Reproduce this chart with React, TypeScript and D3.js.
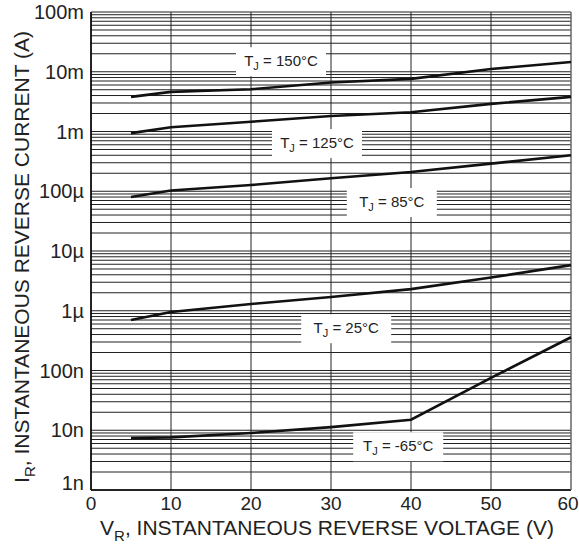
import React from 'react';
import * as d3 from 'd3';

// reverse voltage (V) sample points
const voltages = [5, 10, 20, 30, 40, 50, 60];

// reverse current (A) per junction temperature
const i150 = [3.8e-3, 4.6e-3, 5.1e-3, 6.6e-3, 7.6e-3, 11.1e-3, 14.6e-3];
const i125 = [0.94e-3, 1.18e-3, 1.46e-3, 1.82e-3, 2.1e-3, 2.9e-3, 3.8e-3];
const i85 = [80e-6, 103e-6, 127e-6, 165e-6, 210e-6, 290e-6, 400e-6];
const i25 = [0.7e-6, 0.95e-6, 1.3e-6, 1.7e-6, 2.3e-6, 3.6e-6, 5.8e-6];
const iMinus65 = [7.4e-9, 7.6e-9, 9e-9, 11.3e-9, 15e-9, 75e-9, 360e-9];

const curveLabels = ['150°C', '125°C', '85°C', '25°C', '-65°C'];
// label anchor points (V, A) for the white boxes
const labelV = [23.75, 28.25, 37.6, 31.9, 38.4];
const labelI = [15e-3, 0.64e-3, 66e-6, 0.51e-6, 5.4e-9];

const xTicks = [0, 10, 20, 30, 40, 50, 60];
const yTicks = [1e-9, 1e-8, 1e-7, 1e-6, 1e-5, 1e-4, 1e-3, 1e-2, 1e-1];
const yTickLabels = ['1n', '10n', '100n', '1µ', '10µ', '100µ', '1m', '10m', '100m'];

const W = 579;
const H = 545;
const margin = { top: 12, right: 8, bottom: 55, left: 91 };
const FONT = 'Liberation Sans, Arial, sans-serif';

export default function App() {
  const x = d3.scaleLinear().domain([0, 60]).range([margin.left, W - margin.right]);
  const y = d3.scaleLog().domain([1e-9, 1e-1]).range([H - margin.bottom, margin.top]);

  const series = [i150, i125, i85, i25, iMinus65];
  const line = d3
    .line<[number, number]>()
    .x(d => x(d[0]))
    .y(d => y(d[1]));

  // minor log grid: 2..9 in every decade
  const minor: number[] = [];
  for (let e = -9; e < -1; e++) {
    for (let m = 2; m <= 9; m++) minor.push(m * Math.pow(10, e));
  }

  const x0 = x(0);
  const x1 = x(60);
  const yTop = y(1e-1);
  const yBot = y(1e-9);

  return (
    <svg
      width={W}
      height={H}
      style={{ position: 'absolute', left: 0, top: 0, background: '#fff' }}
      fontFamily={FONT}
    >
      {/* horizontal grid */}
      <g stroke="#222" strokeWidth={1}>
        {minor.map((v, i) => (
          <line key={'m' + i} x1={x0} x2={x1} y1={y(v)} y2={y(v)} />
        ))}
        {yTicks.map((v, i) => (
          <line key={'M' + i} x1={x0} x2={x1} y1={y(v)} y2={y(v)} />
        ))}
      </g>
      {/* vertical grid */}
      <g stroke="#222" strokeWidth={1}>
        {xTicks.map((v, i) => (
          <line key={i} x1={x(v)} x2={x(v)} y1={yTop} y2={yBot} />
        ))}
      </g>
      {/* axes */}
      <line x1={x0} x2={x0} y1={yTop} y2={yBot} stroke="#000" strokeWidth={1.5} />
      <line x1={x0} x2={x1} y1={yBot} y2={yBot} stroke="#000" strokeWidth={1.5} />
      <line x1={x1} x2={x1} y1={yTop} y2={yBot} stroke="#888" strokeWidth={1} />

      {/* curves */}
      {series.map((s, i) => (
        <path
          key={i}
          d={line(voltages.map((v, j) => [v, s[j]] as [number, number])) || ''}
          fill="none"
          stroke="#111"
          strokeWidth={2.6}
        />
      ))}

      {/* curve labels */}
      {curveLabels.map((lab, i) => {
        const cx = x(labelV[i]);
        const cy = y(labelI[i]);
        const bw = 90;
        return (
          <g key={i}>
            <rect x={cx - bw / 2} y={cy - 14} width={bw} height={29} fill="#fff" />
            <text x={cx} y={cy + 5} textAnchor="middle" fontSize={15} fill="#222">
              T<tspan fontSize={11} dy={4}>J</tspan>
              <tspan dy={-4}>{' = ' + lab}</tspan>
            </text>
          </g>
        );
      })}

      {/* y tick labels */}
      {yTicks.map((v, i) => (
        <text
          key={i}
          x={x0 - 7}
          y={y(v) + (i === 0 ? 0 : 7)}
          textAnchor="end"
          fontSize={20}
          fill="#222"
        >
          {yTickLabels[i]}
        </text>
      ))}

      {/* x tick labels */}
      {xTicks.map((v, i) => (
        <text
          key={i}
          x={x(v) - (i === xTicks.length - 1 ? 3 : 0)}
          y={yBot + 20}
          textAnchor="middle"
          fontSize={19}
          fill="#222"
        >
          {v}
        </text>
      ))}

      {/* x title */}
      <text x={(x0 + x1) / 2 - 4} y={H - 10} textAnchor="middle" fontSize={21} fill="#222">
        V<tspan fontSize={15} dy={6}>R</tspan>
        <tspan dy={-6}>, INSTANTANEOUS REVERSE VOLTAGE (V)</tspan>
      </text>

      {/* y title */}
      <text
        transform={`translate(29, ${(yTop + yBot) / 2 + 6}) rotate(-90)`}
        textAnchor="middle"
        fontSize={21}
        fill="#222"
      >
        I<tspan fontSize={15} dy={6}>R</tspan>
        <tspan dy={-6}>, INSTANTANEOUS REVERSE CURRENT (A)</tspan>
      </text>
    </svg>
  );
}
